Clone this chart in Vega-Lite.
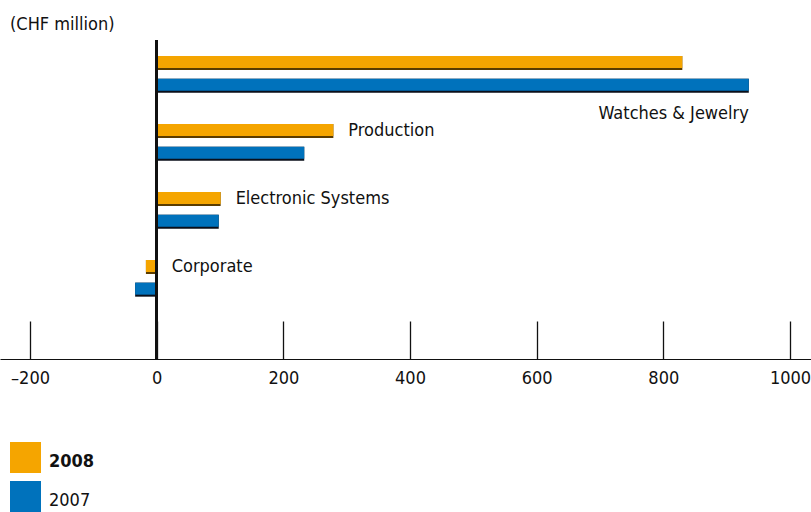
{
  "$schema": "https://vega.github.io/schema/vega-lite/v6.json",
  "width": 811,
  "height": 319,
  "autosize": {"type": "none"},
  "padding": {"left": 0, "top": 40, "right": 0, "bottom": 153},
  "background": "white",
  "title": {
    "text": "(CHF million)",
    "anchor": "start",
    "frame": "group",
    "dx": 10,
    "offset": -4,
    "baseline": "middle",
    "font": "DejaVu Sans Condensed",
    "fontSize": 18,
    "fontWeight": "normal",
    "color": "#111111"
  },
  "config": {
    "view": {"stroke": null},
    "font": "DejaVu Sans Condensed"
  },
  "data": {
    "values": [
      {"segment": "Watches & Jewelry", "year": "2008", "value": 830},
      {"segment": "Watches & Jewelry", "year": "2007", "value": 935},
      {"segment": "Production", "year": "2008", "value": 279},
      {"segment": "Production", "year": "2007", "value": 233},
      {"segment": "Electronic Systems", "year": "2008", "value": 101},
      {"segment": "Electronic Systems", "year": "2007", "value": 98},
      {"segment": "Corporate", "year": "2008", "value": -17},
      {"segment": "Corporate", "year": "2007", "value": -34}
    ]
  },
  "transform": [
    {"calculate": "datum.segment + '|' + datum.year", "as": "row"}
  ],
  "encoding": {
    "y": {
      "field": "row",
      "type": "nominal",
      "axis": null,
      "scale": {
        "type": "band",
        "domain": [
          "Watches & Jewelry|2008", "Watches & Jewelry|2007", "gap1",
          "Production|2008", "Production|2007", "gap2",
          "Electronic Systems|2008", "Electronic Systems|2007", "gap3",
          "Corporate|2008", "Corporate|2007", "gap4", "gap5"
        ],
        "paddingInner": 0.3824,
        "paddingOuter": 0.728,
        "align": 0.485,
        "round": false
      }
    }
  },
  "layer": [
    {
      "mark": {"type": "bar", "height": 14},
      "encoding": {
        "x": {
          "field": "value",
          "type": "quantitative",
          "scale": {"domain": [-247.4, 1033.2], "nice": false, "zero": false},
          "axis": {
            "values": [-200, 0, 200, 400, 600, 800, 1000],
            "title": null,
            "grid": false,
            "domainColor": "#111111",
            "domainWidth": 1.2,
            "tickColor": "#111111",
            "tickWidth": 1.3,
            "tickSize": -38,
            "labelPadding": 48,
            "labelFont": "DejaVu Sans Condensed",
            "labelFontSize": 18,
            "labelColor": "#111111",
            "labelBaseline": "top",
            "labelExpr": "datum.value < 0 ? '\u2013' + format(abs(datum.value), 'd') : format(datum.value, 'd')"
          }
        },
        "color": {
          "condition": {"test": "datum.year == '2008'", "value": "#5a3c00"},
          "value": "#0a0f1a"
        }
      }
    },
    {
      "mark": {"type": "bar", "height": 12, "yOffset": -1},
      "encoding": {
        "x": {"field": "value", "type": "quantitative"},
        "color": {
          "field": "year",
          "type": "nominal",
          "scale": {"domain": ["2008", "2007"], "range": ["#F5A500", "#0072BC"]},
          "legend": {
            "title": null,
            "orient": "none",
            "legendX": 10,
            "legendY": 402,
            "padding": 0,
            "symbolType": "square",
            "symbolSize": 961,
            "symbolStrokeWidth": 0,
            "symbolOpacity": 1,
            "rowPadding": 8,
            "labelOffset": 8,
            "labelFont": "DejaVu Sans Condensed",
            "labelFontSize": 18,
            "labelColor": "#111111",
            "labelBaseline": "middle",
            "encode": {
              "labels": {
                "update": {
                  "fontWeight": {"signal": "datum.label === '2008' ? 'bold' : 'normal'"},
                  "dy": {"value": 4}
                }
              }
            }
          }
        }
      }
    },
    {
      "mark": {"type": "rule", "color": "#111111", "strokeWidth": 2.6},
      "encoding": {"x": {"datum": 0, "type": "quantitative"}, "y": null}
    },
    {
      "transform": [
        {"filter": "datum.year == '2008' && datum.segment != 'Watches & Jewelry'"},
        {"calculate": "max(datum.value, 0)", "as": "anchor"}
      ],
      "mark": {
        "type": "text",
        "align": "left",
        "baseline": "middle",
        "dx": 15,
        "font": "DejaVu Sans Condensed",
        "fontSize": 18,
        "color": "#111111"
      },
      "encoding": {
        "x": {"field": "anchor", "type": "quantitative"},
        "text": {"field": "segment"}
      }
    },
    {
      "transform": [
        {"filter": "datum.year == '2007' && datum.segment == 'Watches & Jewelry'"}
      ],
      "mark": {
        "type": "text",
        "align": "right",
        "baseline": "middle",
        "dy": 28,
        "font": "DejaVu Sans Condensed",
        "fontSize": 18,
        "color": "#111111"
      },
      "encoding": {
        "x": {"field": "value", "type": "quantitative"},
        "text": {"field": "segment"}
      }
    }
  ]
}
